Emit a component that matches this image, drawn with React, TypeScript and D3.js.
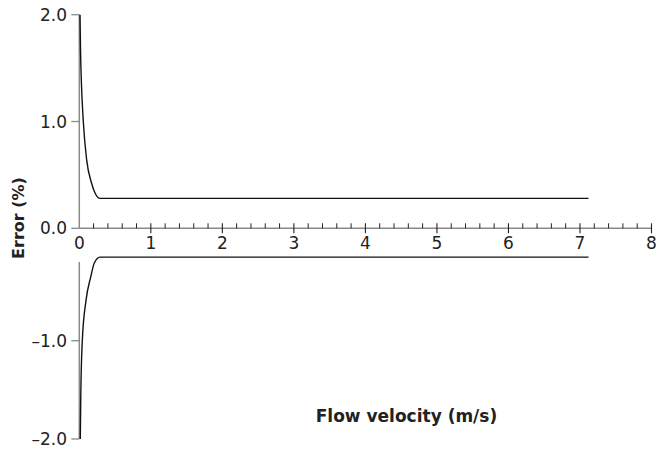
import React from 'react'
import * as d3 from 'd3'

const WIDTH = 658
const HEIGHT = 456
const FONT = '"DejaVu Sans", Verdana, sans-serif'

// axis ticks
const xTicks = [0, 1, 2, 3, 4, 5, 6, 7, 8]
const upperTicks = [2.0, 1.0, 0.0]
const lowerTicks = [-1.0, -2.0]

// error band, upper limit
const upperVelocity = [0.01, 0.017, 0.028, 0.056, 0.103, 0.173, 0.22, 0.29, 7.12]
const upperError = [2.0, 1.67, 1.39, 1.0, 0.64, 0.42, 0.33, 0.28, 0.28]

// error band, lower limit
const lowerVelocity = [0.014, 0.02, 0.042, 0.094, 0.16, 0.21, 0.29, 7.12]
const lowerError = [-2.0, -1.6, -1.0, -0.59, -0.35, -0.21, -0.15, -0.15]

const fmt = (v: number) => (v < 0 ? '\u2013' + Math.abs(v).toFixed(1) : v.toFixed(1))

const x = d3.scaleLinear().domain([0, 8]).range([79.3, 651.5])
const yUp = d3.scaleLinear().domain([0, 2]).range([228.3, 14.7])
const yLow = d3.scaleLinear().domain([-1, -2]).range([340.7, 439])

const minorTicks = d3.range(0, 8.0001, 0.2).filter(v => Math.abs(v - Math.round(v)) > 0.01)

const upperLine = d3
  .line<number>()
  .x((d, i) => x(upperVelocity[i]))
  .y(d => yUp(d))
  .curve(d3.curveMonotoneX)

const lowerLine = d3
  .line<number>()
  .x((d, i) => x(lowerVelocity[i]))
  .y(d => yLow(d))
  .curve(d3.curveMonotoneX)

const AXIS = '#8a8a8a'
const TEXT = '#222'

export default function App() {
  const x0 = x(0)
  const axisY = yUp(0)
  return (
    <svg
      width={WIDTH}
      height={HEIGHT}
      style={{ position: 'absolute', left: 0, top: 0, background: '#fff' }}
      fontFamily={FONT}
    >
      {/* upper y axis */}
      <line x1={x0} x2={x0} y1={yUp(2)} y2={axisY} stroke={AXIS} strokeWidth={1.5} />
      {upperTicks.map(t => (
        <g key={'u' + t}>
          <line x1={x0 - 8} x2={x0} y1={yUp(t)} y2={yUp(t)} stroke={AXIS} strokeWidth={1.3} />
          <text x={67} y={yUp(t)} textAnchor="end" dominantBaseline="central" fontSize={17} fill={TEXT}>
            {fmt(t)}
          </text>
        </g>
      ))}

      {/* lower y axis */}
      <line x1={x0} x2={x0} y1={yLow(-0.2)} y2={yLow(-2)} stroke={AXIS} strokeWidth={1.5} />
      {lowerTicks.map(t => (
        <g key={'l' + t}>
          <line x1={x0 - 8} x2={x0} y1={yLow(t)} y2={yLow(t)} stroke={AXIS} strokeWidth={1.3} />
          <text x={67} y={yLow(t)} textAnchor="end" dominantBaseline="central" fontSize={17} fill={TEXT}>
            {fmt(t)}
          </text>
        </g>
      ))}

      {/* x axis */}
      <line x1={x0} x2={x(8)} y1={axisY} y2={axisY} stroke={AXIS} strokeWidth={1.5} />
      {minorTicks.map(t => (
        <line key={'m' + t} x1={x(t)} x2={x(t)} y1={axisY - 5} y2={axisY} stroke={TEXT} strokeWidth={1} />
      ))}
      {xTicks.map(t => (
        <g key={'x' + t}>
          {t > 0 && (
            <line x1={x(t)} x2={x(t)} y1={axisY - 5} y2={axisY + 5} stroke={TEXT} strokeWidth={1.1} />
          )}
          <text x={x(t)} y={axisY + 15} textAnchor="middle" dominantBaseline="central" fontSize={17} fill={TEXT}>
            {t}
          </text>
        </g>
      ))}

      {/* curves */}
      <path d={upperLine(upperError) || ''} fill="none" stroke="#111" strokeWidth={1.4} />
      <path d={lowerLine(lowerError) || ''} fill="none" stroke="#111" strokeWidth={1.4} />

      {/* titles */}
      <text
        transform="translate(24,218) rotate(-90)"
        textAnchor="middle"
        fontSize={16}
        fontWeight="bold"
        fill={TEXT}
      >
        Error (%)
      </text>
      <text x={406.5} y={422} textAnchor="middle" fontSize={17} fontWeight="bold" fill={TEXT}>
        Flow velocity (m/s)
      </text>
    </svg>
  )
}
